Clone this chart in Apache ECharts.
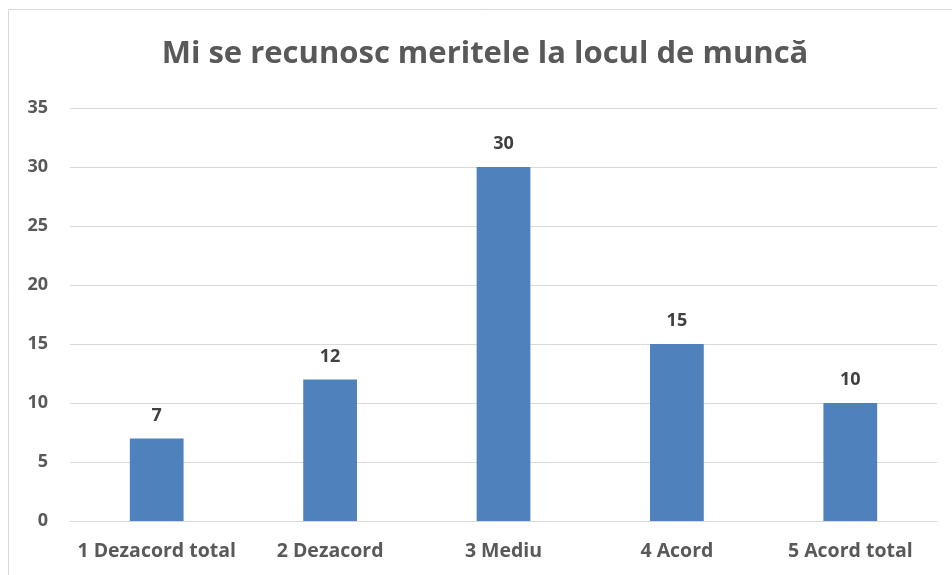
<!DOCTYPE html>
<html><head><meta charset="utf-8">
<script src="https://cdn.jsdelivr.net/npm/echarts@6/dist/echarts.min.js"></script>
<style>html,body{margin:0;padding:0;background:#fff}#c{width:952px;height:575px}</style>
</head><body><div id="c"></div>
<script>
const titleText = "Mi se recunosc meritele la locul de muncă";
const categories = ["1 Dezacord total", "2 Dezacord", "3 Mediu", "4 Acord", "5 Acord total"];
const values = [7, 12, 30, 15, 10];
const yTicks = [0, 5, 10, 15, 20, 25, 30, 35];

const chart = echarts.init(document.getElementById('c'), null, {renderer: 'canvas'});
const font = '"Open Sans", "Liberation Sans", sans-serif';
chart.setOption({
  animation: false,
  backgroundColor: '#fff',
  title: {
    text: titleText, left: 480, top: 34, textAlign: 'center',
    textStyle: {fontFamily: font, fontSize: 31, fontWeight: 'bold', color: '#595959'}
  },
  graphic: [{
    type: 'rect', shape: {x: 8.5, y: 9.5, width: 960, height: 600},
    style: {fill: 'none', stroke: '#d9d9d9', lineWidth: 1}, silent: true, z: -1
  }],
  grid: {left: 70, right: 15, top: 108, bottom: 54},
  xAxis: {
    type: 'category', data: categories,
    axisLine: {lineStyle: {color: '#d9d9d9', width: 1}},
    axisTick: {show: false},
    axisLabel: {interval: 0, margin: 20, fontFamily: font, fontSize: 19.5, fontWeight: 'bold', color: '#595959'}
  },
  yAxis: {
    type: 'value', min: yTicks[0], max: yTicks[yTicks.length - 1], interval: 5,
    axisLine: {show: false}, axisTick: {show: false},
    splitLine: {lineStyle: {color: '#d9d9d9', width: 1}},
    axisLabel: {margin: 22, fontFamily: font, fontSize: 18, fontWeight: 'bold', color: '#595959'}
  },
  series: [{
    type: 'bar', data: values, barWidth: '31%',
    itemStyle: {color: '#4f81bd'},
    label: {show: true, position: 'top', distance: 14, fontFamily: font, fontSize: 18, fontWeight: 'bold', color: '#404040'}
  }]
});
</script></body></html>
